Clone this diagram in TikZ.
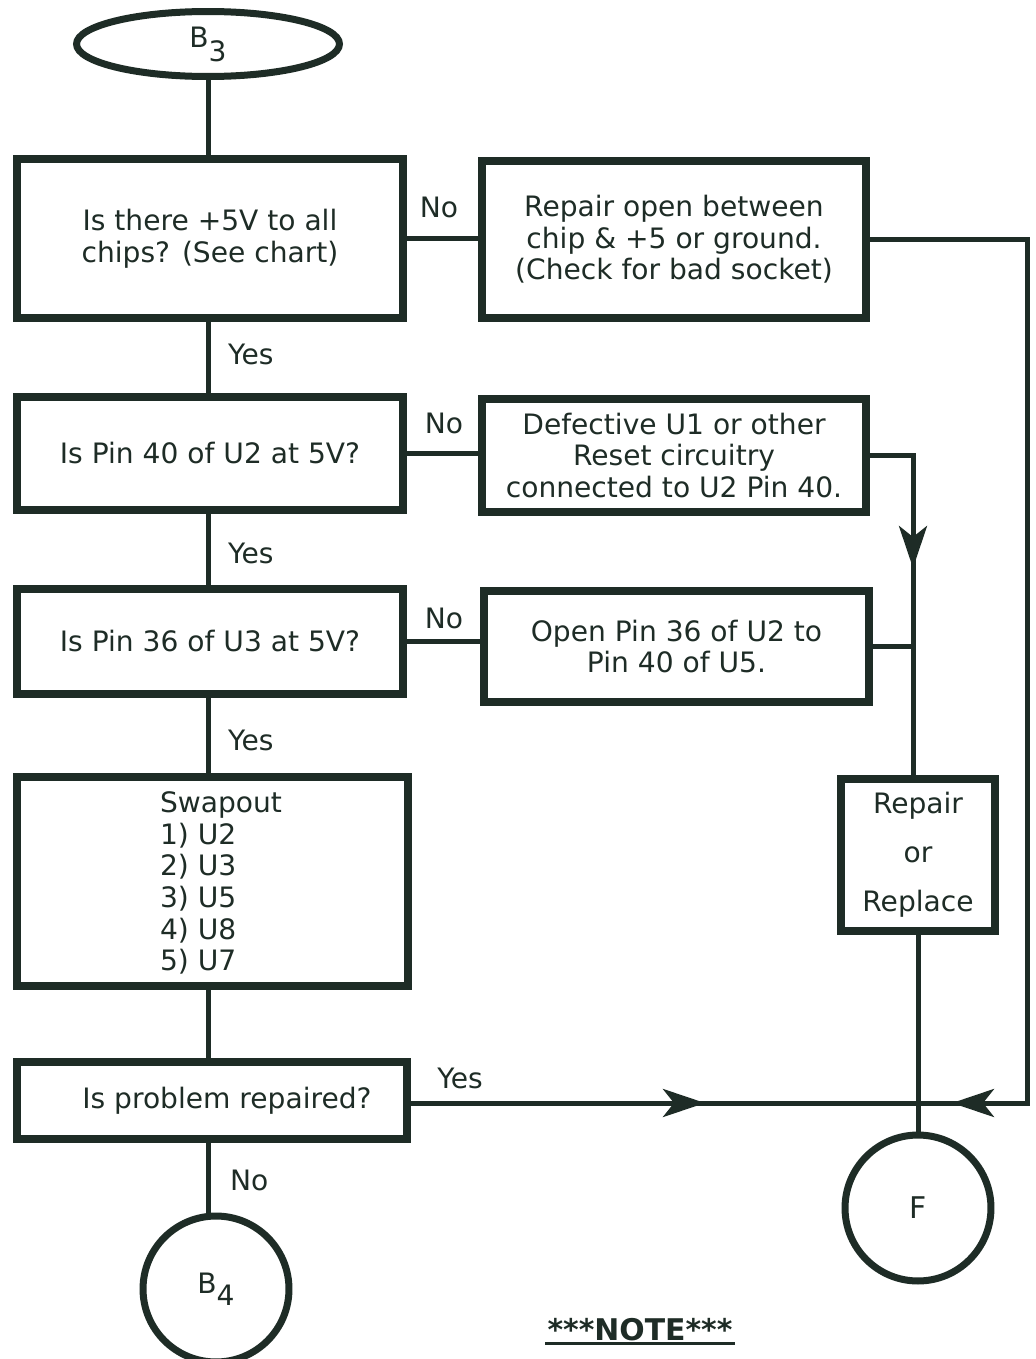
\documentclass[tikz,border=0pt]{standalone}
\usepackage{fontspec}
\setmainfont{DejaVu Sans}
\usetikzlibrary{arrows.meta,shapes.geometric}
\definecolor{ink}{RGB}{30,44,38}

\begin{document}
\begin{tikzpicture}[x=0.02cm, y=-0.02cm, ink,
  every node/.style={font=\fontsize{16}{18}\selectfont, text=ink},
  box/.style={draw=ink, line width=0.16cm, rectangle, inner sep=0pt, align=center},
  ring/.style={draw=ink, line width=0.14cm, circle, inner sep=0pt, minimum size=2.92cm},
  conn/.style={draw=ink, line width=0.1cm},
  arrowhd/.style={-{Stealth[length=0.84cm, width=0.56cm, inset=0.22cm]}}]
  \useasboundingbox[fill=white] (0,0) rectangle (1035,1359);
  % left column
  \node[draw=ink, line width=0.14cm, ellipse, inner sep=0pt, minimum width=5.26cm, minimum height=1.3cm,
        font=\fontsize{16}{18}\selectfont] (b3) at (208,44) {B\raisebox{-8pt}{3}};
  \node[box, minimum width=7.72cm, minimum height=3.18cm] (q1) at (210,238.5) {Is there +5V to all\\chips? (See chart)};
  \node[box, minimum width=7.72cm, minimum height=2.26cm] (q2) at (210,453.5) {Is Pin 40 of U2 at 5V?};
  \node[box, minimum width=7.72cm, minimum height=2.1cm] (q3) at (210,641.5) {Is Pin 36 of U3 at 5V?};
  \node[box, minimum width=7.82cm, minimum height=4.18cm] (swap) at (212.5,881.5) {};
  \node[align=left] (swaplist) at (221,883) {Swapout\\1) U2\\2) U3\\3) U5\\4) U8\\5) U7};
  \node[box, minimum width=7.8cm, minimum height=1.54cm] (q4) at (212,1100.5) {\hspace*{0.6cm}Is problem repaired?};
  \node[ring, font=\fontsize{16}{18}\selectfont] (b4) at (216,1289) {B\raisebox{-7pt}{4}};
  % right column
  \node[box, minimum width=7.68cm, minimum height=3.14cm] (fix1) at (674,239.5) {Repair open between\\chip \& +5 or ground.\\(Check for bad socket)};
  \node[box, minimum width=7.68cm, minimum height=2.26cm] (fix2) at (674,455.5) {Defective U1 or other\\Reset circuitry\\connected to U2 Pin 40.};
  \node[box, minimum width=7.7cm, minimum height=2.22cm] (fix3) at (676.5,646.5) {Open Pin 36 of U2 to\\Pin 40 of U5.};
  \node[box, minimum width=3.08cm, minimum height=3.04cm] (repair) at (918,855) {Repair\\[10pt]or\\[10pt]Replace};
  \node[ring, font=\fontsize{17}{19}\selectfont] (f) at (918,1208) {F};
  % answers
  \node[anchor=west] (yes1) at (222,354) {Yes};
  \node[anchor=west] (yes2) at (222,553) {Yes};
  \node[anchor=west] (yes3) at (222,740) {Yes};
  \node (yes4) at (460,1078) {Yes};
  \node (no1) at (439,207) {No};
  \node (no2) at (444,423) {No};
  \node (no3) at (444,618) {No};
  \node[anchor=west] (no4) at (224,1180) {No};
  \node[font=\fontsize{17}{20}\selectfont\bfseries, inner sep=1pt] (note) at (640,1330) {***NOTE***};
  \draw[line width=0.06cm] (note.south west) -- (note.south east);
  % junctions
  \coordinate (spine) at (208,0);
  \coordinate (bend) at (913,455.5);
  \coordinate (tipD) at (913,568);
  \coordinate (tipR) at (705,1103);
  \coordinate (join) at (918,1103);
  \coordinate (rt) at (1027,1103);
  \coordinate (tipL) at (952,1103);
  % connectors
  \draw[conn] (b3.south) -- (q1.north -| b3.south);
  \draw[conn] (q1.south -| spine) -- (q2.north -| spine);
  \draw[conn] (q2.south -| spine) -- (q3.north -| spine);
  \draw[conn] (q3.south -| spine) -- (swap.north -| spine);
  \draw[conn] (swap.south -| spine) -- (q4.north -| spine);
  \draw[conn] (q4.south -| spine) -- (b4.north -| spine);
  \draw[conn] (q1.east) -- (q1.east -| fix1.west);
  \draw[conn] (q2.east) -- (q2.east -| fix2.west);
  \draw[conn] (q3.east) -- (q3.east -| fix3.west);
  \draw[conn] (fix2.east) -- (bend) -- (bend |- repair.north);
  \draw[conn, arrowhd] (bend) -- (tipD);
  \draw[conn] (fix3.east) -- (fix3.east -| tipD);
  \draw[conn] (repair) -- (f);
  \draw[conn] (q4.east |- tipR) -- (join);
  \draw[conn, arrowhd] (q4.east |- tipR) -- (tipR);
  \draw[conn] (fix1.east) -- (fix1.east -| rt) -- (rt) -- (join);
  \draw[conn, arrowhd] (rt) -- (tipL);
\end{tikzpicture}
\end{document}
